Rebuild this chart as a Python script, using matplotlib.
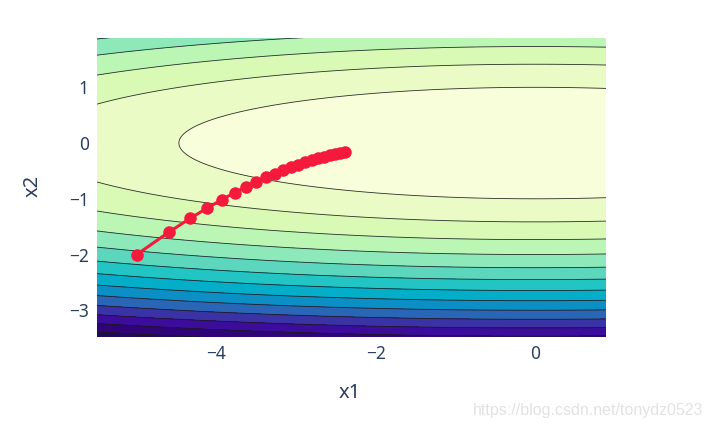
import numpy as np
import matplotlib
matplotlib.use("Agg")
import matplotlib.pyplot as plt
from matplotlib.colors import ListedColormap, BoundaryNorm

# Objective f(x1, x2) = a*x1^2 + b*x2^2 (contour field)
coef_x1 = 0.1
coef_x2 = 2.0
x1_grid = np.arange(-5.5, 0.95, 0.02)
x2_grid = np.arange(-3.5, 1.95, 0.02)

# Trajectory points
traj_x1 = [-5.0, -4.6, -4.329, -4.114, -3.932, -3.773, -3.630, -3.500, -3.380,
           -3.269, -3.166, -3.068, -2.976, -2.889, -2.807, -2.728, -2.653,
           -2.581, -2.512, -2.446, -2.383]
traj_x2 = [-2.0, -1.6, -1.350, -1.164, -1.014, -0.891, -0.786, -0.696, -0.618,
           -0.549, -0.489, -0.436, -0.389, -0.347, -0.310, -0.277, -0.248,
           -0.222, -0.198, -0.177, -0.159]

levels = [0, 2, 4, 6, 8, 10, 12, 14, 16, 18, 20, 22, 24, 26, 28]
band_colors = ['#f8fdda', '#ebfbc6', '#d8fab4', '#bbf6b4', '#8de8ba', '#5dd6be',
               '#22c4c4', '#04adc8', '#0b8fc4', '#2a66b6', '#3a33a6', '#3c0c9c',
               '#300478', '#200a55']

x_ticks = [-4, -2, 0]
y_ticks = [-3, -2, -1, 0, 1]

fig = plt.figure(figsize=(7.12, 4.29), dpi=100)
ax = fig.add_axes([97/712, 1-337/429, (606-97)/712, (337-38)/429])

X1, X2 = np.meshgrid(x1_grid, x2_grid)
Z = coef_x1 * X1**2 + coef_x2 * X2**2
cmap = ListedColormap(band_colors)
norm = BoundaryNorm(levels, cmap.N)
ax.contourf(X1, X2, Z, levels=levels, cmap=cmap, norm=norm)
ax.contour(X1, X2, Z, levels=levels[1:-1], colors='#1a1a1a', linewidths=0.6, alpha=0.9)

ax.plot(traj_x1, traj_x2, '-o', color='#f5193c', lw=2.2, markersize=8, zorder=5)

ax.set_xlim(-5.5, 0.89)
ax.set_ylim(-3.48, 1.885)

txt = '#2a3f5f'
ax.set_xticks(x_ticks)
ax.set_yticks(y_ticks)
ax.set_xticklabels(['\u22124', '\u22122', '0'])
ax.set_yticklabels(['\u22123', '\u22122', '\u22121', '0', '1'])
ax.tick_params(length=0, labelsize=12.5, labelcolor=txt, pad=6)
for lab in ax.get_xticklabels() + ax.get_yticklabels():
    lab.set_fontfamily('Noto Sans')
for s in ax.spines.values():
    s.set_visible(False)

fig.text(350/712, 1-393/429, 'x1', ha='center', va='center', fontsize=14.5,
         color=txt, family='Noto Sans')
fig.text(33/712, 1-186/429, 'x2', ha='center', va='center', fontsize=14.5,
         color=txt, family='Noto Sans', rotation=90)

fig.text(703/712, 1-410/429, 'https://blog.csdn.net/tonydz0523', ha='right', va='center',
         fontsize=11.5, color='#e2e2e2', family='Liberation Sans')

fig.savefig('out.png', dpi=100)
